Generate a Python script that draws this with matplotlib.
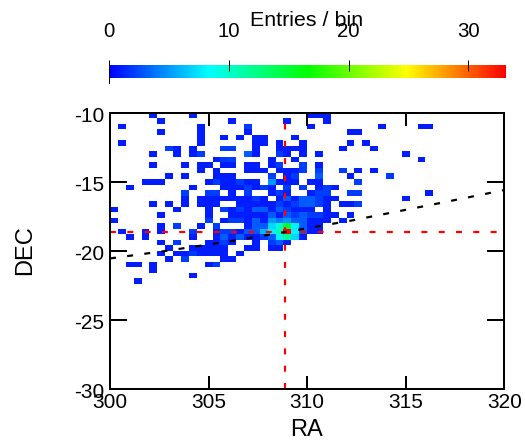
# -*- coding: utf-8 -*-
# ================================ LIBRARIES ================================ #
import numpy as np
import matplotlib
matplotlib.use('Agg')
import matplotlib.pyplot as plt
from matplotlib.colors import LinearSegmentedColormap
from matplotlib.transforms import ScaledTranslation

# ================================== DATA =================================== #
RA_RANGE   = [300, 320]
DEC_RANGE  = [-30, -10]
N_BINS     = 50
RA_TICKS   = [300, 305, 310, 315, 320]
DEC_TICKS  = [-30, -25, -20, -15, -10]
CBAR_TICKS = [0, 10, 20, 30]
CBAR_MAX   = 33.15

# Source position (red cross)
SRC_RA  = 308.9
SRC_DEC = -18.63

# Black dashed curve
CURVE_RA  = [300, 303, 306.2, 309.7, 312.3, 316.6, 320]
CURVE_DEC = [-20.55, -19.97, -19.28, -18.44, -17.79, -16.58, -15.6]

# Entries per bin, one dict per DEC row from the top, {RA bin: entries}
ROWS = [
    {5:1, 10:1, 25:1, 26:1, 27:1},
    {6:1, 15:1, 22:1, 27:1},
    {1:1, 11:1, 17:2, 25:1, 34:1, 39:1, 40:1},
    {6:1, 11:1, 17:1, 30:1, 31:1},
    {11:1, 14:1, 16:1, 18:1, 19:1, 23:1},
    {1:1, 11:1, 18:1, 19:1, 21:1, 24:1, 30:1, 32:1},
    {7:2, 8:1, 10:1, 14:2, 15:2, 18:1, 21:1, 22:1, 23:1, 24:1, 29:1, 33:1},
    {5:1, 8:1, 10:1, 11:2, 17:3, 18:1, 21:2, 22:1, 24:1, 26:1, 37:1},
    {13:1, 14:2, 15:2, 20:1, 23:1, 39:1},
    {5:1, 9:1, 11:1, 12:1, 14:1, 15:1, 17:1, 18:1, 20:1, 21:2, 24:2, 26:1},
    {11:1, 13:1, 17:1, 18:1, 19:1, 21:1, 22:1, 23:1, 24:2, 26:2, 29:2, 31:1, 33:1},
    {7:1, 9:1, 13:1, 14:1, 15:1, 20:2, 22:1, 23:2, 26:3, 30:1, 35:2},
    {4:1, 5:1, 6:1, 12:1, 13:2, 14:1, 15:1, 16:2, 17:1, 18:1, 20:5, 21:1, 22:1, 23:1,
     25:1, 26:1, 31:2},
    {2:1, 10:1, 14:1, 15:1, 16:1, 17:2, 18:1, 19:2, 20:1, 22:2, 24:2, 26:1, 27:2, 28:1},
    {9:2, 12:2, 13:2, 15:1, 17:2, 20:1, 21:2, 22:1, 25:1, 26:2, 27:2, 30:2, 31:2, 40:1},
    {9:1, 11:1, 12:1, 13:1, 14:1, 15:1, 16:1, 17:1, 18:2, 19:1, 21:1, 22:3, 23:1, 24:3,
     25:3, 26:2, 27:1, 28:1, 37:1},
    {5:1, 7:1, 9:1, 11:1, 12:1, 13:1, 16:1, 17:1, 18:1, 19:1, 20:1, 21:2, 22:1, 23:2,
     24:3, 25:3, 26:2, 27:1, 29:1, 30:1, 31:2},
    {0:1, 8:1, 12:1, 14:2, 15:1, 16:2, 17:1, 18:3, 19:3, 20:1, 21:3, 22:2, 23:1, 24:1,
     25:1, 27:1},
    {6:1, 12:1, 15:1, 16:1, 17:1, 18:1, 19:1, 20:3, 21:1, 22:3, 23:2, 24:3, 25:2, 26:2,
     27:1, 28:1, 30:1},
    {0:1, 12:2, 14:1, 15:2, 16:2, 17:1, 18:3, 19:1, 20:5, 21:4, 22:5, 23:3, 24:3, 25:1,
     26:1, 27:1, 29:1},
    {6:1, 8:2, 11:1, 13:2, 17:1, 18:3, 19:3, 20:7, 21:10, 22:15, 23:8, 24:3, 25:1, 26:1},
    {1:1, 4:1, 6:1, 10:2, 13:1, 14:2, 15:2, 16:1, 17:3, 18:3, 19:6, 20:8, 21:11, 22:33,
     23:8, 24:3, 25:1, 26:1},
    {2:1, 4:1, 10:1, 13:1, 14:3, 15:1, 16:3, 17:1, 18:1, 19:2, 20:3, 21:8, 22:12, 23:7,
     24:1},
    {6:1, 8:2, 12:1, 13:1, 14:2, 15:1, 18:1, 20:2, 21:3, 22:1},
    {7:1, 10:1, 11:1, 12:1, 13:1, 14:1, 17:1, 18:1, 20:1, 21:1},
    {6:1, 8:1, 9:1, 10:2, 11:1, 12:1, 13:1, 14:1, 16:1},
    {7:1, 9:2, 14:1, 15:1},
    {2:1, 3:1, 5:1, 12:1, 13:2},
    {5:1},
    {10:1},
    {3:1},
]

# ================================= STYLE =================================== #
PX = 72/100  # points per pixel at dpi 100
plt.rcParams['font.family']       = ['Liberation Sans', 'DejaVu Sans']
plt.rcParams['lines.scale_dashes'] = False
plt.rcParams['axes.unicode_minus'] = False

W, H = 525, 441
DASH = (0, (6*PX, 11.3*PX))

# ================================== MAIN =================================== #
counts = np.zeros((N_BINS, N_BINS))
for i, row in enumerate(ROWS):
    for col, val in row.items():
        counts[N_BINS - 1 - i, col] = val

raEdges  = np.linspace(RA_RANGE[0], RA_RANGE[1], N_BINS + 1)
decEdges = np.linspace(DEC_RANGE[0], DEC_RANGE[1], N_BINS + 1)

cmap = LinearSegmentedColormap.from_list(
    'root_rainbow', ['#0000ff', '#00ffff', '#00ff00', '#ffff00', '#ff0000'])

fig = plt.figure(figsize=(W/100, H/100), dpi=100)
ax  = fig.add_axes([110/W, 1 - 389/H, 394.3/W, 276.3/H])

mesh = ax.pcolormesh(
    raEdges, decEdges, np.ma.masked_equal(counts, 0),
    cmap=cmap, vmin=0, vmax=CBAR_MAX, antialiased=False, linewidth=0
    )

ax.axhline(SRC_DEC, color='#ff0000', lw=2.2*PX, linestyle=DASH)
ax.axvline(SRC_RA,  color='#ff0000', lw=2.2*PX, linestyle=DASH)
ax.plot(CURVE_RA, CURVE_DEC, color='black', lw=2.2*PX, linestyle=DASH)

ax.set_xlim(RA_RANGE)
ax.set_ylim(DEC_RANGE)
ax.set_xticks(RA_TICKS)
ax.set_yticks(DEC_TICKS)
ax.tick_params(axis='x', direction='in', top=True, length=13*PX, width=2*PX,
               labelsize=15, pad=3)
ax.tick_params(axis='y', direction='in', right=True, length=17*PX, width=2*PX,
               labelsize=15, pad=4)
for spine in ax.spines.values():
    spine.set_linewidth(2*PX)

# DEC tick labels sit a little below their ticks
shift = ScaledTranslation(0, -2/100, fig.dpi_scale_trans)
for label in ax.get_yticklabels():
    label.set_transform(label.get_transform() + shift)

fig.text(307/W, 1 - 436/H, 'RA',  fontsize=17, ha='center', va='baseline')
fig.text(36/W,  1 - 250/H, 'DEC', fontsize=17, rotation=90, ha='right', va='center')

# Colour bar on top
cax  = fig.add_axes([109.3/W, 1 - 78/H, 396.7/W, 13/H])
cbar = fig.colorbar(mesh, cax=cax, orientation='horizontal', ticks=CBAR_TICKS)
cbar.outline.set_visible(False)
cax.xaxis.set_ticks_position('top')
cax.tick_params(axis='x', direction='inout', length=11*PX, width=1*PX, labelsize=14.7, pad=13.5)
cax.plot([0, 0], [-0.4, 1.3], color='black', lw=1*PX, clip_on=False,
         transform=cax.get_xaxis_transform())

fig.text(307/W, 1 - 26/H, 'Entries / bin', fontsize=15.4, ha='center', va='baseline')

fig.savefig('out.png', dpi=100)
